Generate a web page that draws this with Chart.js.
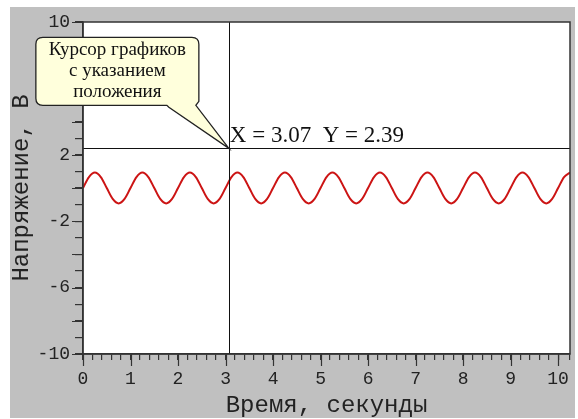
<!DOCTYPE html>
<html>
<head>
<meta charset="utf-8">
<script src="https://cdn.jsdelivr.net/npm/chart.js@4.4.1/dist/chart.umd.min.js"></script>
<style>
  html, body { margin: 0; padding: 0; background: #fff; }
  canvas { display: block; }
</style>
</head>
<body>
<canvas id="scope" width="578" height="419"></canvas>
<script>
// signal, every eighth of a period
var timeSec = [
    0, 0.125, 0.25, 0.375, 0.5, 0.625, 0.75, 0.875,
    1, 1.125, 1.25, 1.375, 1.5, 1.625, 1.75, 1.875,
    2, 2.125, 2.25, 2.375, 2.5, 2.625, 2.75, 2.875,
    3, 3.125, 3.25, 3.375, 3.5, 3.625, 3.75, 3.875,
    4, 4.125, 4.25, 4.375, 4.5, 4.625, 4.75, 4.875,
    5, 5.125, 5.25, 5.375, 5.5, 5.625, 5.75, 5.875,
    6, 6.125, 6.25, 6.375, 6.5, 6.625, 6.75, 6.875,
    7, 7.125, 7.25, 7.375, 7.5, 7.625, 7.75, 7.875,
    8, 8.125, 8.25, 8.375, 8.5, 8.625, 8.75, 8.875,
    9, 9.125, 9.25, 9.375, 9.5, 9.625, 9.75, 9.875,
    10, 10.125, 10.25
];
var voltage = [
    0, 0.66, 0.93, 0.66, 0, -0.66, -0.93, -0.66,
    0, 0.66, 0.93, 0.66, 0, -0.66, -0.93, -0.66,
    0, 0.66, 0.93, 0.66, 0, -0.66, -0.93, -0.66,
    0, 0.66, 0.93, 0.66, 0, -0.66, -0.93, -0.66,
    0, 0.66, 0.93, 0.66, 0, -0.66, -0.93, -0.66,
    0, 0.66, 0.93, 0.66, 0, -0.66, -0.93, -0.66,
    0, 0.66, 0.93, 0.66, 0, -0.66, -0.93, -0.66,
    0, 0.66, 0.93, 0.66, 0, -0.66, -0.93, -0.66,
    0, 0.66, 0.93, 0.66, 0, -0.66, -0.93, -0.66,
    0, 0.66, 0.93, 0.66, 0, -0.66, -0.93, -0.66,
    0, 0.66, 0.93
];
var xLabelValues = [0, 1, 2, 3, 4, 5, 6, 7, 8, 9, 10];
var yLabelValues = [-10, -6, -2, 2, 6, 10];
var cursorX = 3.07;
var cursorY = 2.39;
var calloutLines = ["Курсор графиков", "с указанием", "положения"];
var xTitle = "Время, секунды";
var yTitle = "Напряжение, В";

var monoFont = "'Liberation Mono', 'DejaVu Sans Mono', monospace";
var serifFont = "'Liberation Serif', 'DejaVu Serif', serif";

function near(v, list) {
    for (var i = 0; i < list.length; i++) {
        if (Math.abs(v - list[i]) < 1e-6) return true;
    }
    return false;
}

var panelPlugin = {
    id: "panel",
    beforeDraw: function(chart) {
        var ctx = chart.ctx, a = chart.chartArea;
        ctx.save();
        ctx.fillStyle = "#fff";
        ctx.fillRect(0, 0, chart.width, chart.height);
        ctx.fillStyle = "#c0c0c0";
        ctx.fillRect(10, 7, 565, 411);
        ctx.fillStyle = "#fff";
        ctx.fillRect(a.left, a.top, a.right - a.left, a.bottom - a.top);
        ctx.restore();
    },
    afterDatasetsDraw: function(chart) {
        var ctx = chart.ctx, a = chart.chartArea;
        var px = chart.scales.x.getPixelForValue(cursorX);
        var py = chart.scales.y.getPixelForValue(cursorY);
        ctx.save();
        ctx.strokeStyle = "#111";
        ctx.lineWidth = 1;
        ctx.beginPath();
        ctx.moveTo(Math.round(px) + 0.5, a.top);
        ctx.lineTo(Math.round(px) + 0.5, a.bottom);
        ctx.moveTo(a.left, Math.round(py) + 0.5);
        ctx.lineTo(a.right, Math.round(py) + 0.5);
        ctx.stroke();
        ctx.restore();
    },
    afterDraw: function(chart) {
        var ctx = chart.ctx, a = chart.chartArea;
        var xs = chart.scales.x, ys = chart.scales.y;
        ctx.save();

        // frame
        ctx.strokeStyle = "#333";
        ctx.lineWidth = 1.5;
        ctx.strokeRect(a.left, a.top, a.right - a.left, a.bottom - a.top);

        // long ticks
        ctx.lineWidth = 1.2;
        ctx.beginPath();
        for (var v = 0; v <= 10; v++) {
            var tx = Math.round(xs.getPixelForValue(v)) + 0.5;
            ctx.moveTo(tx, a.bottom);
            ctx.lineTo(tx, a.bottom + 12);
        }
        for (var w = -10; w <= 10; w += 2) {
            var ty = Math.round(ys.getPixelForValue(w)) + 0.5;
            ctx.moveTo(a.left - 11, ty);
            ctx.lineTo(a.left, ty);
        }
        ctx.stroke();

        // cursor readout
        var px = xs.getPixelForValue(cursorX);
        var py = ys.getPixelForValue(cursorY);
        ctx.fillStyle = "#111";
        ctx.font = "23px " + serifFont;
        ctx.textAlign = "left";
        ctx.textBaseline = "alphabetic";
        ctx.fillText("X = " + cursorX.toFixed(2) + "  Y = " + cursorY.toFixed(2), px + 1, py - 6);

        // callout box pointing at the cursor
        var L = px - 193, R = px - 30, T = py - 111, B = py - 43, r = 7;
        ctx.beginPath();
        ctx.moveTo(L + r, T);
        ctx.lineTo(R - r, T);
        ctx.quadraticCurveTo(R, T, R, T + r);
        ctx.lineTo(R, B - 4);
        ctx.lineTo(R - 3, B);
        ctx.lineTo(px, py);
        ctx.lineTo(R - 30, B + 2);
        ctx.lineTo(R - 32, B);
        ctx.lineTo(L + r, B);
        ctx.quadraticCurveTo(L, B, L, B - r);
        ctx.lineTo(L, T + r);
        ctx.quadraticCurveTo(L, T, L + r, T);
        ctx.closePath();
        ctx.fillStyle = "#ffffdc";
        ctx.fill();
        ctx.strokeStyle = "#222";
        ctx.lineWidth = 1.3;
        ctx.stroke();

        ctx.fillStyle = "#111";
        ctx.font = "19px " + serifFont;
        ctx.textAlign = "center";
        ctx.textBaseline = "middle";
        for (var i = 0; i < calloutLines.length; i++) {
            ctx.fillText(calloutLines[i], (L + R) / 2, T + 13 + i * 21);
        }
        ctx.restore();
    }
};

window.onload = function() {
    var points = timeSec.map(function(t, i) {
        return { x: t, y: voltage[i] };
    });

    var ctx = document.getElementById("scope").getContext("2d");
    var scope = new Chart(ctx, {
        type: "line",
        data: {
            datasets: [{
                data: points,
                borderColor: "#cc1414",
                borderWidth: 2,
                pointRadius: 0,
                fill: false,
                cubicInterpolationMode: "monotone"
            }]
        },
        options: {
            responsive: false,
            animation: false,
            layout: { padding: { left: 10, top: 22, right: 7, bottom: 1 } },
            plugins: {
                legend: { display: false },
                tooltip: { enabled: false }
            },
            scales: {
                x: {
                    type: "linear",
                    min: 0,
                    max: 10.25,
                    afterFit: function(s) { s.height = 64; },
                    ticks: {
                        stepSize: 0.2,
                        autoSkip: false,
                        maxRotation: 0,
                        padding: 8,
                        color: "#222",
                        font: { family: monoFont, size: 18 },
                        callback: function(v) {
                            return near(v, xLabelValues) ? String(Math.round(v)) : "";
                        }
                    },
                    grid: { drawOnChartArea: false, tickLength: 6, color: "#333", lineWidth: 1.2 },
                    border: { color: "#333", width: 1.5 },
                    title: {
                        display: true,
                        text: xTitle,
                        color: "#222",
                        padding: 0,
                        font: { family: monoFont, size: 24, lineHeight: 1 }
                    }
                },
                y: {
                    min: -10,
                    max: 10,
                    afterFit: function(s) { s.width = 73; },
                    ticks: {
                        stepSize: 1,
                        autoSkip: false,
                        padding: 5,
                        color: "#222",
                        font: { family: monoFont, size: 18 },
                        callback: function(v) {
                            return near(v, yLabelValues) ? String(v) : "";
                        }
                    },
                    grid: { drawOnChartArea: false, tickLength: 8, color: "#333", lineWidth: 1.2 },
                    border: { color: "#333", width: 1.5 },
                    title: {
                        display: true,
                        text: yTitle,
                        color: "#222",
                        padding: 0,
                        font: { family: monoFont, size: 24, lineHeight: 1 }
                    }
                }
            }
        },
        plugins: [panelPlugin]
    });
};
</script>
</body>
</html>
